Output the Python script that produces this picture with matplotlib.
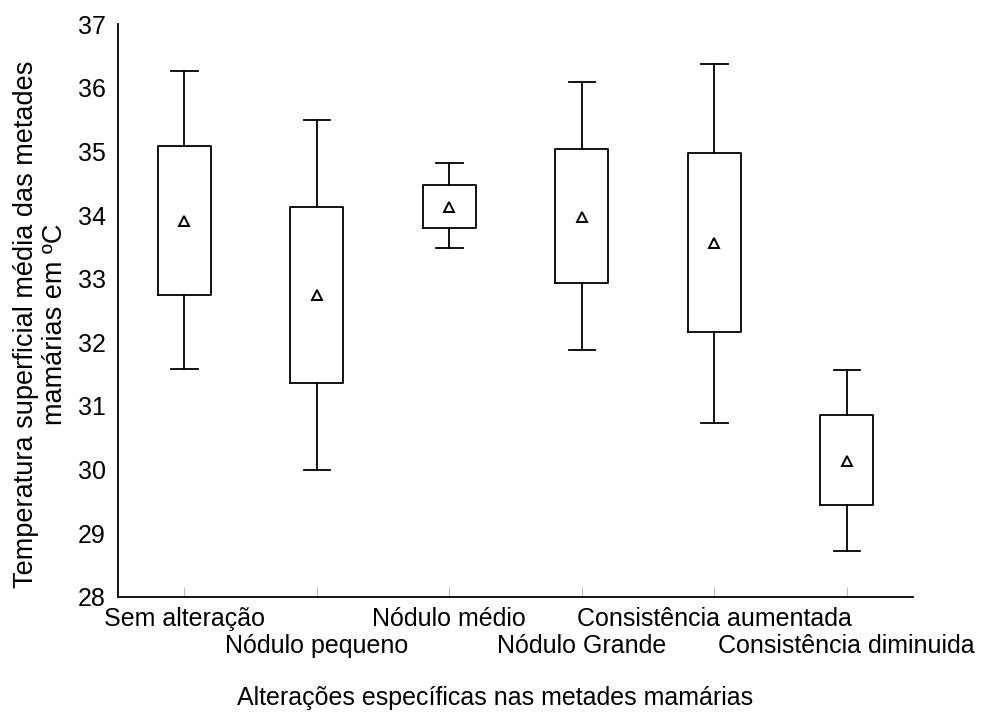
import matplotlib
matplotlib.use("Agg")
import matplotlib.pyplot as plt

categories = ["Sem alteração", "Nódulo pequeno", "Nódulo médio",
              "Nódulo Grande", "Consistência aumentada", "Consistência diminuida"]
whisker_low = [31.58, 30.00, 33.48, 31.88, 30.74, 28.72]
box_low     = [32.75, 31.36, 33.80, 32.93, 32.16, 29.45]
mean_vals   = [33.90, 32.74, 34.13, 33.97, 33.56, 30.13]
box_high    = [35.09, 34.13, 34.47, 35.04, 34.97, 30.86]
whisker_high= [36.26, 35.49, 34.82, 36.09, 36.37, 31.56]
yticks = [28, 29, 30, 31, 32, 33, 34, 35, 36, 37]

plt.rcParams['font.family'] = ['Liberation Sans', 'DejaVu Sans']
FS = 18

fig = plt.figure(figsize=(9.81, 7.28), dpi=100)
ax = fig.add_axes([0.1203, 0.18, 0.8104, 0.787])

stats = []
for i, c in enumerate(categories):
    stats.append(dict(label=c, whislo=whisker_low[i], q1=box_low[i],
                      med=mean_vals[i], q3=box_high[i], whishi=whisker_high[i],
                      mean=mean_vals[i], fliers=[]))

positions = list(range(1, len(categories) + 1))
ax.bxp(stats, positions=positions, widths=0.40, showmeans=True,
       showcaps=True, showfliers=False,
       boxprops=dict(color='black', linewidth=1.3),
       whiskerprops=dict(color='black', linewidth=1.3),
       capprops=dict(color='black', linewidth=1.3),
       medianprops=dict(linewidth=0),
       meanprops=dict(marker='^', markerfacecolor='white',
                      markeredgecolor='black', markersize=6.5, markeredgewidth=1.4),
       capwidths=0.2)

ax.set_xlim(0.5, 6.5)
ax.set_ylim(28, 37)
ax.set_yticks(yticks)
ax.set_yticklabels([str(v) for v in yticks], fontsize=FS)
ax.tick_params(axis='y', length=0, pad=9)
ax.set_xticks(positions)
ax.set_xticklabels([])
ax.tick_params(axis='x', direction='in', length=7, color='#bbbbbb', width=0.8)

for i, c in enumerate(categories):
    yoff = -0.039 if i % 2 == 0 else -0.085
    ax.text(positions[i], yoff, c, transform=ax.get_xaxis_transform(),
            ha='center', va='center', fontsize=FS)

for s in ['top', 'right']:
    ax.spines[s].set_visible(False)
for s in ['left', 'bottom']:
    ax.spines[s].set_linewidth(1.3)

fig.text(0.041, 0.555, "Temperatura superficial média das metades\nmamárias em ºC",
         ha='center', va='center', rotation=90, fontsize=19.5, linespacing=1.15,
         multialignment='center')
fig.text(0.505, 0.041, "Alterações específicas nas metades mamárias",
         ha='center', va='center', fontsize=FS)

fig.savefig("out.png", dpi=100)
